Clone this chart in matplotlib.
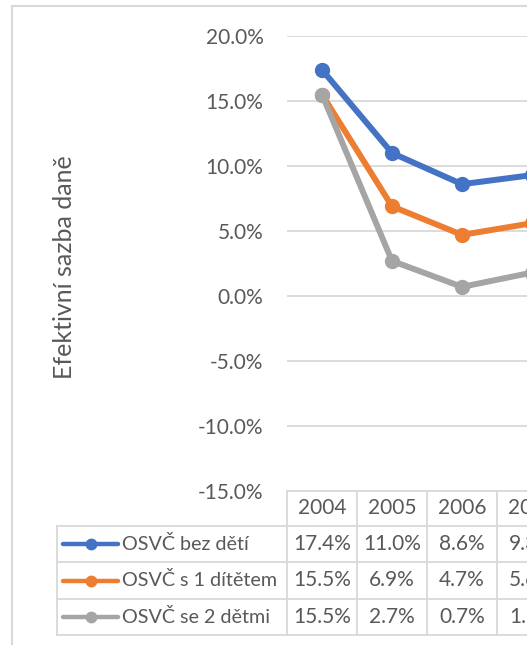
import matplotlib.pyplot as plt
from matplotlib.lines import Line2D
from matplotlib.patches import Rectangle

plt.rcParams["font.family"] = ["Lato", "DejaVu Sans"]

years = ["2004", "2005", "2006", "2007"]
series_names = ["OSVČ bez dětí", "OSVČ s 1 dítětem", "OSVČ se 2 dětmi"]
bez_deti = [17.4, 11.0, 8.6, 9.3]
s_1_ditetem = [15.5, 6.9, 4.7, 5.6]
se_2_detmi = [15.5, 2.7, 0.7, 1.8]
series_values = [bez_deti, s_1_ditetem, se_2_detmi]
yticks = [20, 15, 10, 5, 0, -5, -10, -15]

COLORS = ["#4472C4", "#ED7D31", "#A5A5A5"]
TEXT = "#595959"
GRID = "#D9D9D9"
FS = 15

W, H = 527, 645
fig = plt.figure(figsize=(W / 100, H / 100), dpi=100)

# outer chart border (left and top edge visible)
fig.add_artist(Rectangle((12 / W, -0.1), 1.0, (H - 6) / H + 0.1, transform=fig.transFigure,
                         fill=False, edgecolor=GRID, lw=1.5))

col_w = 70.0
plot_left = 287.0
n = len(years)
plot_right = plot_left + n * col_w
top, bottom = 36.0, 491.0

ax = fig.add_axes([plot_left / W, (H - bottom) / H, (plot_right - plot_left) / W, (bottom - top) / H])
x = list(range(n))
for vals, color in zip(series_values, COLORS):
    ax.plot(x, vals, color=color, lw=4.3, marker="o", ms=10, solid_capstyle="round", zorder=3)
ax.set_xlim(-0.5, n - 0.5)
ax.set_ylim(-15, 20)
ax.set_yticks(yticks)
ax.set_yticklabels([f"{v:.1f}%" for v in yticks], color=TEXT, fontsize=FS)
ax.tick_params(axis="y", length=0, pad=17)
ax.set_xticks([])
ax.grid(True, axis="y", color=GRID, lw=1.3)
ax.set_axisbelow(True)
for s in ax.spines.values():
    s.set_visible(False)

fig.text(64 / W, 1 - 267 / H, "Efektivní sazba daně", rotation=90, ha="center", va="center",
         color=TEXT, fontsize=18)

# data table below the plot
leg_left = 57.0
rows_px = [491, 526, 562, 599, 635]
tab = fig.add_axes([leg_left / W, (H - rows_px[-1]) / H, (plot_right - leg_left) / W,
                    (rows_px[-1] - rows_px[0]) / H])
x0 = -0.5 - (plot_left - leg_left) / col_w
tab.set_xlim(x0, n - 0.5)
tab.set_ylim(rows_px[-1], rows_px[0])
tab.axis("off")

lk = dict(color=GRID, lw=1.3, clip_on=False)
tab.plot([-0.5, n - 0.5], [rows_px[0]] * 2, **lk)
for yy in rows_px[1:]:
    tab.plot([x0, n - 0.5], [yy] * 2, **lk)
tab.plot([x0, x0], [rows_px[1], rows_px[-1]], **lk)
for i in range(n + 1):
    tab.plot([i - 0.5, i - 0.5], [rows_px[0], rows_px[-1]], **lk)

for i, yr in enumerate(years):
    tab.text(i, (rows_px[0] + rows_px[1]) / 2, yr, ha="center", va="center", color=TEXT, fontsize=FS)

for r, (name, vals, color) in enumerate(zip(series_names, series_values, COLORS)):
    yc = (rows_px[r + 1] + rows_px[r + 2]) / 2
    for i, v in enumerate(vals):
        tab.text(i, yc, f"{v:.1f}%", ha="center", va="center", color=TEXT, fontsize=FS)
    lx0 = x0 + (63 - leg_left) / col_w
    lx1 = x0 + (118 - leg_left) / col_w
    tab.add_line(Line2D([lx0, lx1], [yc, yc], color=color, lw=3.2, solid_capstyle="round"))
    tab.add_line(Line2D([(lx0 + lx1) / 2], [yc], color=color, marker="o", ms=7.5))
    tab.text(x0 + (122 - leg_left) / col_w, yc, name, ha="left", va="center", color=TEXT, fontsize=14.2)

fig.savefig("out.png", dpi=100)
